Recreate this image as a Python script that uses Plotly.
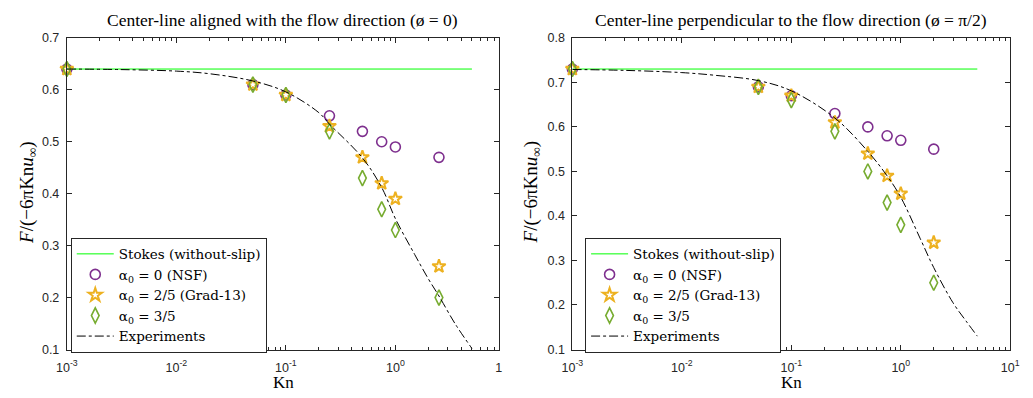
import plotly.graph_objects as go

# ---------------- data ----------------
kn_sim_left = [0.001, 0.05, 0.1, 0.25, 0.5, 0.75, 1.0, 2.5]
nsf_left = [0.64, 0.61, 0.59, 0.55, 0.52, 0.50, 0.49, 0.47]
grad_left = [0.64, 0.61, 0.59, 0.53, 0.47, 0.42, 0.39, 0.26]
a35_left = [0.64, 0.61, 0.59, 0.52, 0.43, 0.37, 0.33, 0.20]

kn_sim_right = [0.001, 0.05, 0.1, 0.25, 0.5, 0.75, 1.0, 2.0]
nsf_right = [0.73, 0.69, 0.67, 0.63, 0.60, 0.58, 0.57, 0.55]
grad_right = [0.73, 0.69, 0.67, 0.61, 0.54, 0.49, 0.45, 0.34]
a35_right = [0.73, 0.69, 0.66, 0.59, 0.50, 0.43, 0.38, 0.25]

kn_stokes = [0.001, 5.0]
stokes_left = [0.64, 0.64]
stokes_right = [0.73, 0.73]

kn_exp_left = [0.001, 0.003, 0.01, 0.02, 0.05, 0.1, 0.2, 0.25, 0.5, 0.75, 1.0, 1.5, 2.0, 2.5, 3.5, 5.0]
exp_left = [0.640, 0.639, 0.636, 0.631, 0.617, 0.596, 0.556, 0.534, 0.469, 0.412, 0.352, 0.283, 0.236, 0.203, 0.150, 0.102]

kn_exp_right = [0.001, 0.003, 0.01, 0.02, 0.05, 0.1, 0.25, 0.5, 0.75, 1.0, 1.5, 2.0, 3.0, 4.0, 5.0]
exp_right = [0.729, 0.727, 0.722, 0.716, 0.704, 0.681, 0.620, 0.545, 0.490, 0.442, 0.350, 0.284, 0.205, 0.162, 0.130]

x_tick_vals_right = [1e-3, 1e-2, 1e-1, 1, 10]
x_tick_text_right = ["10<sup>-3</sup>", "10<sup>-2</sup>", "10<sup>-1</sup>", "10<sup>0</sup>", "10<sup>1</sup>"]
x_tick_vals_left = [1e-3, 1e-2, 1e-1, 1, 8.8]
x_tick_text_left = ["10<sup>-3</sup>", "10<sup>-2</sup>", "10<sup>-1</sup>", "10<sup>0</sup>", "1"]

titles = ["Center-line aligned with the flow direction (ø = 0)",
          "Center-line perpendicular to the flow direction (ø = π/2)"]
names = ["Stokes (without-slip)", "α<sub>0</sub> = 0 (NSF)",
         "α<sub>0</sub> = 2/5 (Grad-13)", "α<sub>0</sub> = 3/5", "Experiments"]

# ---------------- style ----------------
W, H = 1033, 398
AX = "#262626"
PURPLE = "#7E2F8E"
ORANGE = "#EDB120"
GREEN = "#77AC30"
SERIF = "Liberation Serif, Times New Roman, serif"
LEGSERIF = "DejaVu Serif, serif"
SANS = "Liberation Sans, Arial, sans-serif"

fig = go.Figure()


def add_panel(xa, ya, leg, kn_sim, nsf, grad, a35, stokes, kn_exp, yexp):
    fig.add_trace(go.Scatter(x=kn_stokes, y=stokes, mode="lines", name=names[0],
                             line=dict(color="#00FF00", width=1), xaxis=xa, yaxis=ya,
                             legend=leg))
    fig.add_trace(go.Scatter(x=kn_sim, y=nsf, mode="markers", name=names[1],
                             marker=dict(symbol="circle-open", size=10, color=PURPLE,
                                         line=dict(width=1.6, color=PURPLE)),
                             xaxis=xa, yaxis=ya, legend=leg, cliponaxis=False))
    fig.add_trace(go.Scatter(x=kn_sim, y=grad, mode="markers", name=names[2],
                             marker=dict(symbol="star-open", size=10, color=ORANGE,
                                         line=dict(width=2, color=ORANGE)),
                             xaxis=xa, yaxis=ya, legend=leg, cliponaxis=False))
    fig.add_trace(go.Scatter(x=kn_sim, y=a35, mode="markers", name=names[3],
                             marker=dict(symbol="diamond-tall-open", size=11, color=GREEN,
                                         line=dict(width=1.6, color=GREEN)),
                             xaxis=xa, yaxis=ya, legend=leg, cliponaxis=False))
    fig.add_trace(go.Scatter(x=kn_exp, y=yexp, mode="lines", name=names[4],
                             line=dict(color="black", width=1, dash="dashdot", shape="spline"),
                             xaxis=xa, yaxis=ya, legend=leg))


add_panel("x", "y", "legend", kn_sim_left, nsf_left, grad_left, a35_left,
          stokes_left, kn_exp_left, exp_left)
add_panel("x2", "y2", "legend2", kn_sim_right, nsf_right, grad_right, a35_right,
          stokes_right, kn_exp_right, exp_right)

minor_vals = [m * 10 ** e for e in range(-3, 1) for m in range(2, 10)]


def xaxis(domain, rng, tickvals, ticktext, anchor):
    return dict(type="log", domain=domain, range=rng, anchor=anchor,
                tickmode="array", tickvals=tickvals, ticktext=ticktext,
                ticks="inside", ticklen=5, tickwidth=1, tickcolor=AX,
                ticklabelstandoff=6,
                minor=dict(tickmode="array", tickvals=minor_vals, ticks="inside",
                           ticklen=3, tickwidth=1, tickcolor=AX, showgrid=False),
                showline=True, linecolor=AX, linewidth=1, mirror="allticks",
                showgrid=False, zeroline=False,
                tickfont=dict(family=SANS, size=12.5, color=AX))


def yaxis(domain, rng, anchor):
    return dict(domain=domain, range=rng, anchor=anchor, dtick=0.1, tick0=0.1,
                tickformat=".1f",
                ticks="inside", ticklen=5, tickwidth=1, tickcolor=AX,
                ticklabelstandoff=4,
                showline=True, linecolor=AX, linewidth=1, mirror="allticks",
                showgrid=False, zeroline=False,
                tickfont=dict(family=SANS, size=12.5, color=AX))


ydom = [1 - 355 / H, 1 - 32 / H]
legend_common = dict(xanchor="left", yanchor="top",
                     bgcolor="white", bordercolor=AX, borderwidth=1,
                     font=dict(family=LEGSERIF, size=13.5, color="black"),
                     itemwidth=37, tracegroupgap=0)
fig.update_layout(
    width=W, height=H,
    margin=dict(l=0, r=0, t=0, b=0),
    paper_bgcolor="white", plot_bgcolor="white",
    xaxis=xaxis([57 / W, 498 / W], [-3, 0.945], x_tick_vals_left, x_tick_text_left, "y"),
    yaxis=yaxis(ydom, [0.1, 0.7], "x"),
    xaxis2=xaxis([573 / W, 1020 / W], [-3, 1], x_tick_vals_right, x_tick_text_right, "y2"),
    yaxis2=yaxis(ydom, [0.1, 0.8], "x2"),
    legend=dict(x=61 / W, y=1 - 239 / H, **legend_common),
    legend2=dict(x=586 / W, y=1 - 239 / H, **legend_common),
    showlegend=True,
)

annotations = []
for cx, t in [((57 + 498) / 2, titles[0]), ((573 + 1020) / 2, titles[1])]:
    annotations.append(dict(x=cx / W, y=1 - 13 / H, xref="paper", yref="paper",
                            text=t, showarrow=False, xanchor="center", yanchor="middle",
                            font=dict(family=SERIF, size=17.5, color="black")))
for cx in [278, 797]:
    annotations.append(dict(x=cx / W, y=1 - 389 / H, xref="paper", yref="paper",
                            text="Kn", showarrow=False, xanchor="center", yanchor="middle",
                            font=dict(family=SERIF, size=17, color="black")))
for cx in [18, 532]:
    annotations.append(dict(x=cx / W, y=1 - 192 / H, xref="paper", yref="paper",
                            text="<i>F</i>/(−6πKn<i>u</i><sub>∞</sub>)", showarrow=False,
                            textangle=-90, xanchor="center", yanchor="middle",
                            font=dict(family=SERIF, size=19, color="black")))
fig.update_layout(annotations=annotations)

fig.write_html("out.html")
